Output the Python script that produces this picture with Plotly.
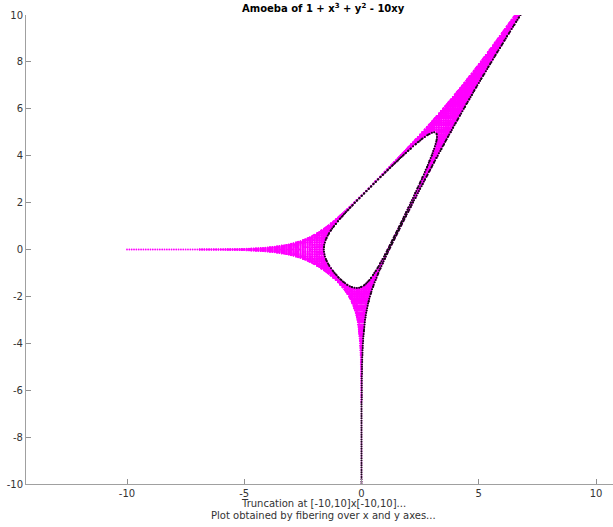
import numpy as np
import plotly.graph_objects as go

# Polynomial 1 + x^3 + y^2 - 10xy : coefficients and exponents of each term
coefs = [1.0, 1.0, 1.0, -10.0]
x_exps = [0, 3, 0, 1]
y_exps = [0, 0, 2, 1]

# truncation box and fibre sampling
log_min, log_max = -10.0, 10.0
n_log = 201          # grid of log|x| (or log|y|) values, step 0.1
n_arg = 120          # argument samples on each fibre

x_ticks = [-10, -5, 0, 5, 10]
y_ticks = [-10, -8, -6, -4, -2, 0, 2, 4, 6, 8, 10]

title_text = "Amoeba of 1 + x<sup>3</sup> + y<sup>2</sup> - 10xy"
xlabel_1 = "Truncation at [-10,10]x[-10,10]..."
xlabel_2 = "Plot obtained by fibering over x and y axes..."


def fibre_roots(t, fixed_exps, free_exps):
    """Roots in the free variable of the polynomial with the other variable fixed at t."""
    deg = max(free_exps)
    P = np.zeros((t.size, deg + 1), dtype=complex)
    for c, fe, ve in zip(coefs, fixed_exps, free_exps):
        P[:, ve] += c * t ** fe
    a = P[:, :deg] / P[:, deg:deg + 1]
    C = np.zeros((t.size, deg, deg), dtype=complex)
    for i in range(deg - 1):
        C[:, i + 1, i] = 1.0
    C[:, :, deg - 1] = -a
    return np.linalg.eigvals(C)


grid = np.linspace(log_min, log_max, n_log)
args = 2 * np.pi * np.arange(n_arg) / n_arg
G, A = np.meshgrid(grid, args, indexing="ij")
g = G.ravel()
a_ = A.ravel()
t = np.exp(g + 1j * a_)
is_real_t = np.isclose(np.sin(a_), 0.0, atol=1e-12)


def collect(fixed_exps, free_exps, swap):
    r = fibre_roots(t, fixed_exps, free_exps)
    D = r.shape[1]
    fixed = np.repeat(g, D)
    tt = np.repeat(t, D)
    rr = r.ravel()
    free = np.log(np.abs(rr) + 1e-300)
    real_pt = np.repeat(is_real_t, D) & (np.abs(rr.imag) <= 1e-9 * (1 + np.abs(rr)))
    if swap:
        px, py = free, fixed
        yval = tt.real
    else:
        px, py = fixed, free
        yval = rr.real
    black = real_pt & (yval > 0)
    ok = (px >= log_min) & (px <= log_max) & (py >= log_min) & (py <= log_max)
    return px[ok], py[ok], black[ok]


# fibre over x axis: fixed x, solve for y
x1, y1, b1 = collect(x_exps, y_exps, swap=False)
# fibre over y axis: fixed y, solve for x
x2, y2, b2 = collect(y_exps, x_exps, swap=True)

mx = np.concatenate([x1, x2])
my = np.concatenate([y1, y2])
bx = np.concatenate([x1[b1], x2[b2]])
by = np.concatenate([y1[b1], y2[b2]])


def dedup(xv, yv, q=0.01):
    k = np.unique(np.stack([np.round(xv / q), np.round(yv / q)], 1), axis=0)
    return k[:, 0] * q, k[:, 1] * q


mx, my = dedup(mx, my)
bx, by = dedup(bx, by)

fig = go.Figure()
fig.add_trace(go.Scatter(x=mx, y=my, mode="markers",
                         marker=dict(color="#ff00ff", size=1.8, line=dict(width=0)),
                         hoverinfo="skip", showlegend=False))
fig.add_trace(go.Scatter(x=bx, y=by, mode="markers",
                         marker=dict(color="#111111", size=2.0, line=dict(width=0)),
                         hoverinfo="skip", showlegend=False))

W, H = 613, 527
ml, mr, mt, mb = 26, 0, 15, 43
pw, ph = W - ml - mr, H - mt - mb
ppu = ph / 20.0
x_lo = -(361.5 - ml) / ppu
x_hi = x_lo + pw / ppu

axis_common = dict(showgrid=False, zeroline=False, showline=True, linecolor="#a0a0a0",
                   linewidth=1, ticks="inside", ticklen=5, tickcolor="#909090",
                   tickfont=dict(family="DejaVu Sans", size=10, color="#333333"),
                   mirror=False, automargin=False)
fig.update_layout(
    width=W, height=H,
    margin=dict(l=ml, r=mr, t=mt, b=mb, pad=0),
    paper_bgcolor="white", plot_bgcolor="white",
    xaxis=dict(range=[x_lo, x_hi], tickvals=x_ticks, ticktext=[str(v) for v in x_ticks], **axis_common),
    yaxis=dict(range=[-10, 10], tickvals=y_ticks, ticktext=[str(v) for v in y_ticks], **axis_common),
)
cx = (323.5 - ml) / pw
fig.add_annotation(text="<b>" + title_text + "</b>", xref="paper", yref="paper",
                   x=cx, y=1 + (mt - 7.5) / ph, xanchor="center", yanchor="middle",
                   showarrow=False, font=dict(family="DejaVu Sans", size=10, color="#000000"))
fig.add_annotation(text=xlabel_1, xref="paper", yref="paper",
                   x=cx, y=-(503 - (H - mb)) / ph, xanchor="center", yanchor="middle",
                   showarrow=False, font=dict(family="DejaVu Sans", size=10, color="#333333"))
fig.add_annotation(text=xlabel_2, xref="paper", yref="paper",
                   x=cx, y=-(515 - (H - mb)) / ph, xanchor="center", yanchor="middle",
                   showarrow=False, font=dict(family="DejaVu Sans", size=10, color="#333333"))

fig.write_html("out.html", config={"displayModeBar": False},
               post_script="document.body.style.margin='0';document.body.style.overflow='hidden';")
